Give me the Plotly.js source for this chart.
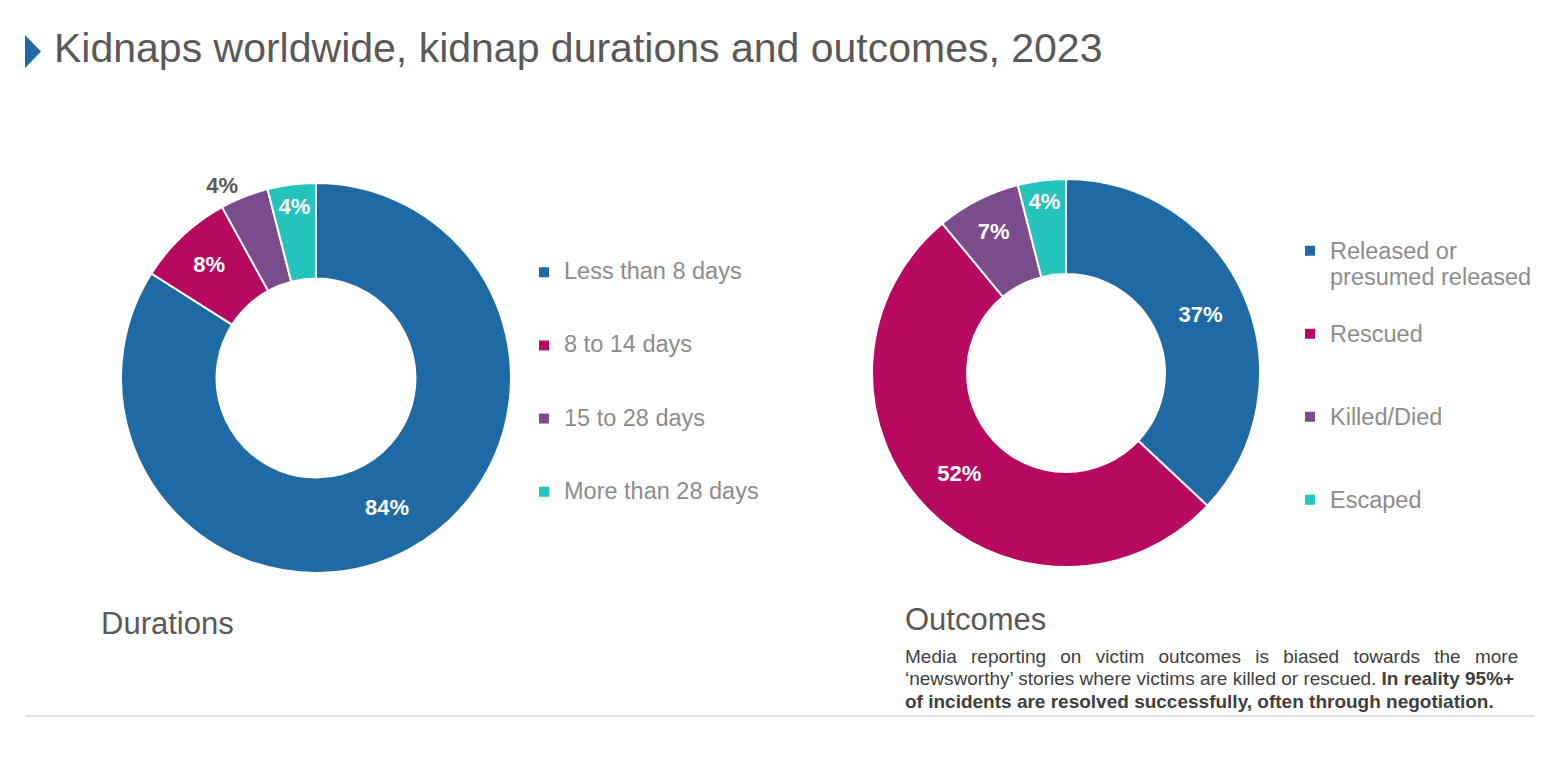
<!DOCTYPE html>
<html>
<head>
<meta charset="utf-8">
<script src="https://cdn.plot.ly/plotly-3.0.1.min.js"></script>
<style>html,body{margin:0;padding:0;background:#fff;}#chart{width:1560px;height:772px;}</style>
</head>
<body>
<div id="chart"></div>
<script>
// ---- data ----
const durationLabels = ['Less than 8 days', '8 to 14 days', '15 to 28 days', 'More than 28 days'];
const durationValues = [84, 8, 4, 4];
const outcomeLabels = ['Released or presumed released', 'Rescued', 'Killed/Died', 'Escaped'];
const outcomeValues = [37, 52, 7, 4];
const sliceColors = ['#1f6aa5', '#b7095f', '#7b4c8c', '#24c3bb'];
const chartTitle = 'Kidnaps worldwide, kidnap durations and outcomes, 2023';
const durationsTitle = 'Durations';
const outcomesTitle = 'Outcomes';
const noteLines = [
  'Media reporting on victim outcomes is biased towards the more',
  '\u2018newsworthy\u2019 stories where victims are killed or rescued. <b>In reality 95%+</b>',
  '<b>of incidents are resolved successfully, often through negotiation.</b>'
];

// ---- helpers ----
const W = 1560, H = 772;
const px = x => x / W;
const py = y => 1 - y / H;
const FONT = 'Arial, "Liberation Sans", Helvetica, sans-serif';

function wrap(label, maxLen) {
  const words = label.split(' ');
  const lines = [];
  let cur = '';
  words.forEach(w => {
    if (cur && (cur + ' ' + w).length > maxLen) { lines.push(cur); cur = w; }
    else { cur = cur ? cur + ' ' + w : w; }
  });
  if (cur) lines.push(cur);
  return lines;
}
function legendLabel(label, maxLen, size, totalLines) {
  const lines = wrap(label, maxLen).map(s => '<span style="font-size:' + size + 'px">' + s + '</span>');
  while (lines.length < totalLines) lines.push('\u00a0');
  return lines.join('<br>');
}

const durTrace = {
  type: 'pie',
  labels: durationLabels.map(l => legendLabel(l, 30, 23.5, 3)),
  values: durationValues,
  sort: false,
  direction: 'clockwise',
  rotation: 0,
  hole: 0.51,
  domain: {x: [px(121), px(511)], y: [py(573), py(183)]},
  marker: {colors: sliceColors, line: {color: '#ffffff', width: 2}},
  texttemplate: '%{value}%',
  textposition: ['inside', 'inside', 'outside', 'inside'],
  insidetextorientation: 'horizontal',
  insidetextfont: {family: FONT, size: 22, color: '#ffffff', weight: 'bold'},
  outsidetextfont: {family: FONT, size: 22, color: '#595959', weight: 'bold'},
  hoverinfo: 'percent',
  legend: 'legend',
  showlegend: true
};

const outTrace = {
  type: 'pie',
  labels: outcomeLabels.map(l => legendLabel(l, 18, 23.5, 3)),
  values: outcomeValues,
  sort: false,
  direction: 'clockwise',
  rotation: 0,
  hole: 0.51,
  domain: {x: [px(872), px(1260)], y: [py(567), py(179)]},
  marker: {colors: sliceColors, line: {color: '#ffffff', width: 2}},
  texttemplate: '%{value}%',
  textposition: 'inside',
  insidetextorientation: 'horizontal',
  insidetextfont: {family: FONT, size: 22, color: '#ffffff', weight: 'bold'},
  hoverinfo: 'percent',
  legend: 'legend2',
  showlegend: true
};

const layout = {
  width: W, height: H,
  margin: {l: 0, r: 0, t: 0, b: 0},
  paper_bgcolor: '#ffffff',
  plot_bgcolor: '#ffffff',
  font: {family: FONT, color: '#595959'},
  title: {
    text: chartTitle,
    font: {family: FONT, size: 41, color: '#595959'},
    x: px(54), xanchor: 'left', xref: 'container',
    y: py(48), yanchor: 'middle', yref: 'container'
  },
  legend: {
    x: px(524), xanchor: 'left', y: py(254), yanchor: 'top',
    font: {family: FONT, size: 18, color: '#8c8c8c'},
    valign: 'top', bgcolor: 'rgba(0,0,0,0)', traceorder: 'normal'
  },
  legend2: {
    x: px(1290), xanchor: 'left', y: py(231), yanchor: 'top',
    font: {family: FONT, size: 20.5, color: '#8c8c8c'},
    valign: 'top', bgcolor: 'rgba(0,0,0,0)', traceorder: 'normal'
  },
  shapes: [
    {type: 'path', xref: 'paper', yref: 'paper',
     path: 'M ' + px(25) + ' ' + py(35) + ' L ' + px(25) + ' ' + py(68) + ' L ' + px(41) + ' ' + py(51.5) + ' Z',
     fillcolor: '#1f6aa5', line: {width: 0}},
    {type: 'line', xref: 'paper', yref: 'paper', x0: px(25), x1: px(1535), y0: py(716), y1: py(716),
     line: {color: '#b4c6d8', width: 1}}
  ],
  annotations: [
    {text: durationsTitle, xref: 'paper', yref: 'paper', x: px(99), y: py(623), xanchor: 'left', yanchor: 'middle',
     showarrow: false, font: {family: FONT, size: 31, color: '#595959'}},
    {text: outcomesTitle, xref: 'paper', yref: 'paper', x: px(903), y: py(619), xanchor: 'left', yanchor: 'middle',
     showarrow: false, font: {family: FONT, size: 31, color: '#595959'}},
    {text: '<span style="font-size:19px;word-spacing:9px">' + noteLines[0] + '</span><br>' +
           '<span style="font-size:19px">' + noteLines[1] + '</span><br>' +
           '<span style="font-size:19px">' + noteLines[2] + '</span>',
     xref: 'paper', yref: 'paper', x: px(903), y: py(644), xanchor: 'left', yanchor: 'top', align: 'left',
     showarrow: false, font: {family: FONT, size: 17.3, color: '#404040'}}
  ]
};

Plotly.newPlot('chart', [durTrace, outTrace], layout, {displayModeBar: false, staticPlot: true});
</script>
</body>
</html>
